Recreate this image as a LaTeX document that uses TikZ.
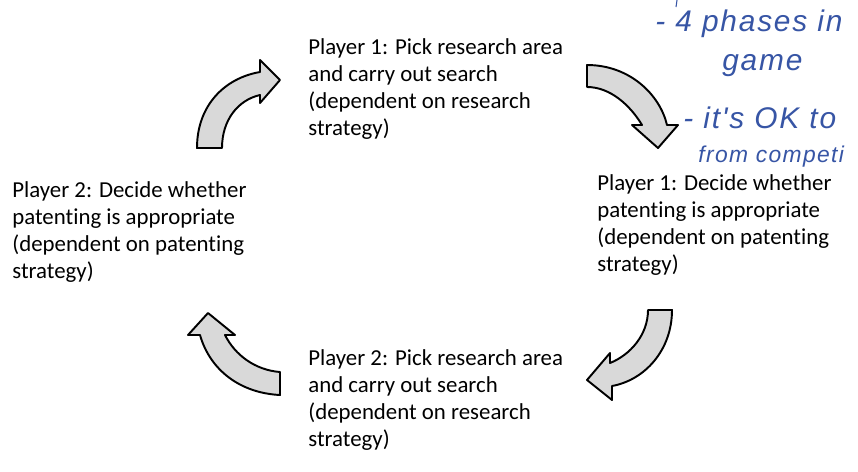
\documentclass[tikz,border=0pt]{standalone}
\usepackage{fontspec}
\setmainfont{Carlito}[Ligatures=NoCommon]
\newfontfamily\mano{Liberation Sans}[LetterSpace=6]
\definecolor{tinta}{RGB}{55,85,165}
\begin{document}
\begin{tikzpicture}[
        x=0.02cm, y=-0.02cm,
        fase/.style={anchor=north west, inner sep=0pt, align=left, font=\fontsize{13}{15.4}\selectfont},
        flecha/.style={draw=black, line width=1.1pt, fill=black!15, line join=round},
        nota/.style={anchor=west, inner sep=0pt, text=tinta, font=\mano\itshape\fontsize{17}{20}\selectfont}
    ]
        \useasboundingbox (0,0) rectangle (858,471);

        % Fases del juego
        \node[fase] (p1busca) at (308,38) {Player 1: Pick research area\\and carry out search\\(dependent on research\\strategy)};
        \node[fase] (p1patente) at (597,174) {Player 1: Decide whether\\patenting is appropriate\\(dependent on patenting\\strategy)};
        \node[fase] (p2busca) at (308,349) {Player 2: Pick research area\\and carry out search\\(dependent on research\\strategy)};
        \node[fase] (p2patente) at (12,181) {Player 2: Decide whether\\patenting is appropriate\\(dependent on patenting\\strategy)};

        % Flechas curvas
        \draw[flecha] (197,148) -- (222,148) .. controls (222,120) and (238,100) .. (260,95)
            -- (260,103) -- (280,80) -- (260,60) -- (260,72)
            .. controls (225,78) and (197,105) .. (197,148) -- cycle;
        \draw[flecha] (587,65) .. controls (630,65) and (660,95) .. (667,125)
            -- (678,125) -- (658,148) -- (632,125) -- (642,125)
            .. controls (630,105) and (610,87) .. (587,87) -- cycle;
        \draw[flecha] (648,310) -- (672,310) .. controls (672,350) and (645,380) .. (612,386)
            -- (612,400) -- (587,380) -- (610,353) -- (610,363)
            .. controls (630,355) and (648,335) .. (648,310) -- cycle;
        \draw[flecha] (280,372) -- (280,395) .. controls (240,393) and (210,370) .. (200,335)
            -- (188,335) -- (208,313) -- (235,335) -- (225,335)
            .. controls (235,355) and (255,370) .. (280,372) -- cycle;

        % Notas a mano
        \draw[tinta, line width=0.6pt] (677,0) -- (676,7);
        \node[nota] (n1) at (655,24) {- 4 phases in};
        \node[nota] (n2) at (722,66) {game};
        \node[nota] (n3) at (683,118) {- it's OK to};
        \node[nota, font=\mano\itshape\fontsize{13}{16}\selectfont] (n4) at (698,157) {from competi};
    \end{tikzpicture}
\end{document}
